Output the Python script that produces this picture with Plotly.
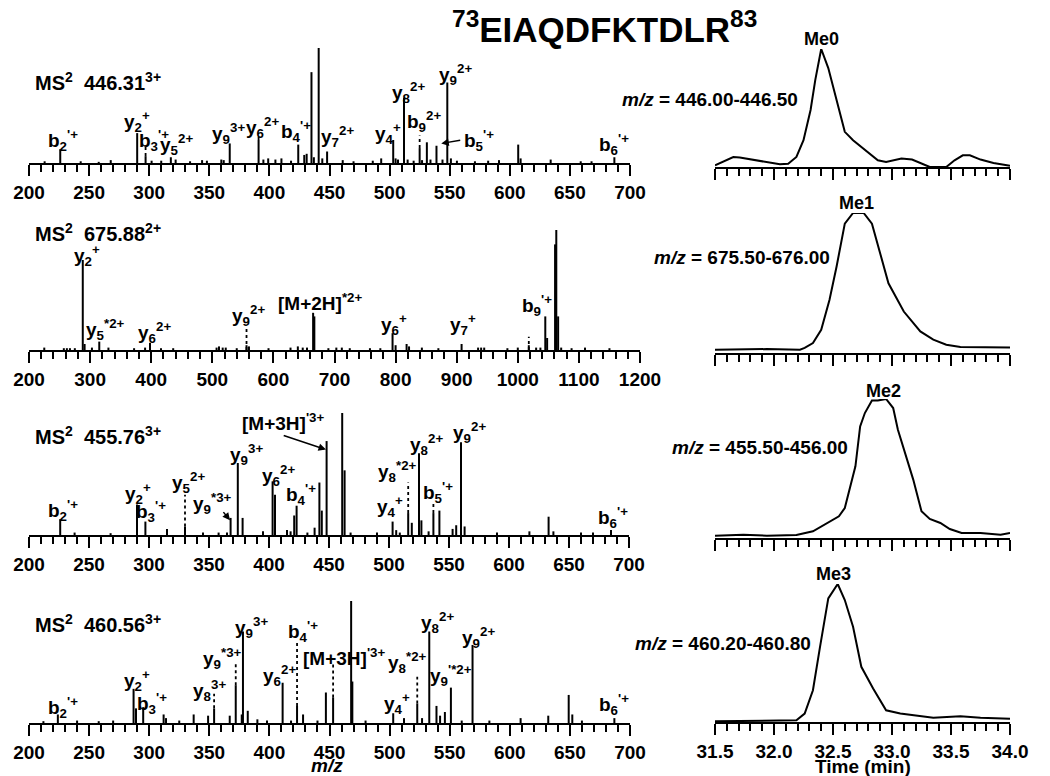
import plotly.graph_objects as go

# ------------------------- DATA -------------------------
title_text = "<sup>73</sup>EIAQDFKTDLR<sup>83</sup>"
ms_titles = ["MS<sup>2</sup>\u00a0\u00a0446.31<sup>3+</sup>",
             "MS<sup>2</sup>\u00a0\u00a0675.88<sup>2+</sup>",
             "MS<sup>2</sup>\u00a0\u00a0455.76<sup>3+</sup>",
             "MS<sup>2</sup>\u00a0\u00a0460.56<sup>3+</sup>"]

# Spectrum 1 (MS2 446.31, 3+)
s1_mz = [213, 226, 243, 258, 268, 290, 297, 302, 310, 318, 322, 334, 344, 348, 360, 362, 367,
         391, 395, 399, 405, 410, 418, 424, 429, 431, 435, 437, 441, 444, 448, 461, 470, 486,
         493, 503, 505, 507, 512, 515, 520, 525, 527, 531, 534, 539, 544, 548, 551, 556, 571,
         582, 591, 607, 609, 634, 659, 668, 687]
s1_int = [1.5, 12, 1.5, 1, 2.5, 26, 6, 2, 2, 5, 3, 1.5, 2.5, 2, 3, 2.5, 17,
          20, 3, 4, 3, 4, 2, 16, 7, 8, 79, 5, 100, 4, 10, 2.5, 1.5, 2,
          4, 20, 4, 3, 57, 3, 2, 13, 2.5, 18, 3, 15, 3, 70, 4, 2, 1.5,
          2, 2.5, 16, 4, 3, 1.5, 1.5, 5]

# Spectrum 2 (MS2 675.88, 2+)
s2_mz = [225, 257, 262, 267, 275, 288, 291, 303, 315, 330, 372, 390, 398, 416, 436, 507, 511,
         517, 522, 540, 556, 560, 592, 628, 640, 648, 655, 665, 667, 690, 703, 712, 725, 758,
         775, 795, 800, 818, 822, 843, 870, 908, 935, 940, 945, 983, 1000, 1018, 1030, 1037,
         1045, 1048, 1061, 1063, 1066, 1071, 1088, 1110, 1150]
s2_int = [2, 1.5, 1.5, 1.5, 1.5, 75, 5, 2, 7, 2, 1.5, 2, 6, 1.5, 1.5, 2, 3,
          2, 2, 1.5, 4, 3, 1.5, 2, 3, 2, 2, 31, 28, 1.5, 2, 2, 1.5, 1.5,
          1.5, 14, 4, 5, 3, 2, 1.5, 5, 2, 2, 2, 1.5, 2, 4, 2, 2,
          28, 10, 88, 100, 28, 2, 1.5, 2, 1.5]

# Spectrum 3 (MS2 455.76, 3+)
s3_mz = [226, 238, 268, 290, 297, 315, 330, 345, 358, 365, 368, 374, 378, 395, 403, 405, 415,
         418, 421, 423, 432, 438, 442, 444, 448, 461, 463, 468, 490, 503, 506, 509, 516, 519,
         525, 527, 533, 537, 542, 553, 556, 560, 563, 590, 617, 633, 637, 660, 670, 685]
s3_int = [13, 2, 1.5, 25, 11, 5, 7, 2, 2, 2, 14, 59, 14, 3, 44, 33, 4,
          3, 16, 24, 2, 6, 43, 20, 77, 100, 53, 2, 2, 11, 4, 2, 18, 10,
          67, 12, 3, 18, 20, 5, 8, 76, 7, 2, 3, 15, 3, 2, 2, 4]

# Spectrum 4 (MS2 460.56, 3+)
s4_mz = [212, 224, 240, 258, 270, 287, 289, 295, 312, 314, 325, 337, 349, 354, 367, 372, 377,
         378, 382, 390, 398, 411, 418, 423, 428, 440, 447, 453, 468, 469, 480, 503, 512, 523,
         527, 533, 539, 542, 546, 551, 560, 569, 583, 609, 632, 649, 652, 660, 687]
s4_int = [1.5, 7, 2, 1.5, 2, 28, 12, 13, 7, 4, 2, 7, 6, 12, 6, 31, 7,
          75, 10, 3, 2, 33, 2, 14, 7, 2, 25, 21, 100, 34, 2, 8, 4, 16,
          4, 75, 14, 6, 9, 29, 2, 64, 2, 4, 6, 23, 7, 2, 4]

# Dotted connector lines: m/z, from, to (relative intensity)
s1_dot = [(297, 6, 14), (391, 20, 25), (525, 13, 24)]
s2_dot = [(556, 0, 18), (1018, 0, 11)]
s3_dot = [(330, 7, 33), (516, 18, 43), (537, 18, 26)]
s4_dot = [(354, 12, 24), (372, 31, 50), (423, 14, 68), (453, 21, 48), (523, 16, 38)]

# Ion labels: text, m/z, relative height
s1_lab = [("b<sub>2</sub><sup>'+</sup>", 228, 20), ("y<sub>2</sub><sup>+</sup>", 290, 36),
          ("b<sub>3</sub><sup>'+</sup>", 304, 20), ("y<sub>5</sub><sup>2+</sup>", 323, 16),
          ("y<sub>9</sub><sup>3+</sup>", 366, 26), ("y<sub>6</sub><sup>2+</sup>", 394, 31),
          ("b<sub>4</sub><sup>'+</sup>", 422, 27), ("y<sub>7</sub><sup>2+</sup>", 457, 23),
          ("[M+3H]<sup>'3+</sup>", 441, 113), ("y<sub>4</sub><sup>+</sup>", 499, 26),
          ("y<sub>8</sub><sup>2+</sup>", 516, 61), ("b<sub>9</sub><sup>2+</sup>", 529, 36),
          ("y<sub>9</sub><sup>2+</sup>", 555, 77), ("b<sub>5</sub><sup>'+</sup>", 574, 20),
          ("b<sub>6</sub><sup>'+</sup>", 687, 16)]
s2_lab = [("y<sub>2</sub><sup>+</sup>", 295, 79), ("y<sub>5</sub><sup>*2+</sup>", 326, 17),
          ("y<sub>6</sub><sup>2+</sup>", 406, 15), ("y<sub>9</sub><sup>2+</sup>", 560, 29),
          ("[M+2H]<sup>*2+</sup>", 676, 40), ("y<sub>6</sub><sup>+</sup>", 797, 21),
          ("y<sub>7</sub><sup>+</sup>", 910, 21), ("b<sub>9</sub><sup>'+</sup>", 1031, 37.5),
          ("b<sub>9</sub><sup>+</sup>", 1066, 108)]
s3_lab = [("b<sub>2</sub><sup>'+</sup>", 228, 20), ("y<sub>2</sub><sup>+</sup>", 291, 34),
          ("b<sub>3</sub><sup>'+</sup>", 302, 19), ("y<sub>5</sub><sup>2+</sup>", 333, 43),
          ("y<sub>9</sub><sup>*3+</sup>", 353, 26), ("y<sub>9</sub><sup>3+</sup>", 381, 66),
          ("y<sub>6</sub><sup>2+</sup>", 408, 49), ("b<sub>4</sub><sup>'+</sup>", 427, 33),
          ("[M+3H]<sup>'3+</sup>", 412, 93), ("y<sub>7</sub><sup>2+</sup>", 467, 105),
          ("y<sub>8</sub><sup>*2+</sup>", 507, 52), ("y<sub>4</sub><sup>+</sup>", 501, 23),
          ("y<sub>8</sub><sup>2+</sup>", 531, 74), ("b<sub>5</sub><sup>'+</sup>", 541, 35),
          ("y<sub>9</sub><sup>2+</sup>", 567, 84), ("b<sub>6</sub><sup>'+</sup>", 687, 14)]
s4_lab = [("b<sub>2</sub><sup>'+</sup>", 228, 13), ("y<sub>2</sub><sup>+</sup>", 290, 35),
          ("b<sub>3</sub><sup>'+</sup>", 302, 16), ("y<sub>8</sub><sup>3+</sup>", 350, 27),
          ("y<sub>9</sub><sup>*3+</sup>", 361, 53), ("y<sub>9</sub><sup>3+</sup>", 385, 78),
          ("y<sub>6</sub><sup>2+</sup>", 408, 39), ("b<sub>4</sub><sup>'+</sup>", 428, 75),
          ("[M+3H]<sup>'3+</sup>", 462, 54), ("y<sub>7</sub><sup>2+</sup>", 473, 111),
          ("y<sub>8</sub><sup>*2+</sup>", 515, 50), ("y<sub>4</sub><sup>+</sup>", 506, 16),
          ("y<sub>8</sub><sup>2+</sup>", 540, 82), ("y<sub>9</sub><sup>'*2+</sup>", 551, 39),
          ("y<sub>9</sub><sup>2+</sup>", 574, 70), ("b<sub>6</sub><sup>'+</sup>", 687, 15)]

# Arrows: (row, tail m/z, tail int, head m/z, head int)
arrows = [(1, 560, 20, 543, 17), (3, 361, 20, 367.5, 12), (3, 411, 82, 447.5, 70)]

# Chromatograms (time in min, relative intensity)
me0_t = [31.50, 31.655, 31.71, 31.88, 32.05, 32.12, 32.19, 32.25, 32.31, 32.35, 32.40, 32.46,
         32.50, 32.55, 32.60, 32.67, 32.79, 32.88, 32.95, 33.08, 33.17, 33.27, 33.32, 33.39,
         33.46, 33.53, 33.60, 33.66, 33.75, 33.86, 34.00]
me0_i = [1.4, 8.5, 8.0, 5.1, 2.3, 2.8, 8.5, 22.7, 48.3, 73.9, 100, 83.8,
         68.2, 48.3, 29.8, 22.7, 12.8, 5.7, 4.3, 7.1, 6.3, 2.3, 0.0, 0.0,
         0.0, 5.7, 9.9, 9.9, 6.3, 3.4, 1.1]
me1_t = [31.50, 31.94, 32.22, 32.26, 32.33, 32.40, 32.47, 32.53, 32.60, 32.67, 32.76, 32.83,
         32.90, 32.97, 33.10, 33.24, 33.35, 33.46, 33.58, 33.86, 34.00]
me1_i = [2.4, 2.8, 2.4, 3.6, 7.1, 16.6, 37.9, 61.6, 92.4, 100, 100, 92.4,
         71.1, 49.8, 29.6, 15.4, 9.5, 5.9, 4.3, 4.3, 4.0]
me2_t = [31.50, 31.74, 31.94, 32.19, 32.33, 32.47, 32.55, 32.60, 32.64, 32.69, 32.73, 32.77,
         32.83, 32.88, 32.95, 33.01, 33.05, 33.10, 33.18, 33.25, 33.32, 33.41, 33.49, 33.59,
         33.75, 33.92, 34.00]
me2_i = [1.7, 2.4, 1.7, 2.2, 4.8, 12.0, 15.6, 21.6, 34.8, 51.6, 80.3, 89.9,
         99.0, 99.0, 100, 93.5, 77.9, 63.5, 42.0, 19.2, 13.7, 10.8, 6.5, 3.6,
         3.6, 2.4, 3.6]
me3_t = [31.50, 31.94, 32.19, 32.26, 32.33, 32.39, 32.46, 32.54, 32.60, 32.67, 32.74, 32.84,
         32.95, 33.07, 33.24, 33.35, 33.58, 33.75, 34.00]
me3_i = [0.5, 0.7, 1.2, 6.1, 23.0, 54.5, 89.6, 100, 88.4, 69.0, 40.0, 24.2,
         8.5, 6.1, 4.1, 3.1, 4.1, 3.1, 2.4]
me_names = ["Me0", "Me1", "Me2", "Me3"]
me_ranges = ["<i>m/z</i> = 446.00-446.50", "<i>m/z</i> = 675.50-676.00",
             "<i>m/z</i> = 455.50-456.00", "<i>m/z</i> = 460.20-460.80"]

# ------------------------- LAYOUT -------------------------
W, H = 1050, 776
FONT = "Liberation Sans, Arial, Helvetica, sans-serif"
def px(x): return x / W
def py(y): return 1 - y / H

left_base = [163, 350, 535, 723]
left_top = [48, 230, 413, 601]
left_x = [(29, 630), (29, 640), (29, 629), (29, 630)]
right_base = [167, 353, 538, 722]
right_top = [49, 213, 399, 584]
right_x = (715, 1010)

spectra = [(s1_mz, s1_int, s1_dot, s1_lab), (s2_mz, s2_int, s2_dot, s2_lab),
           (s3_mz, s3_int, s3_dot, s3_lab), (s4_mz, s4_int, s4_dot, s4_lab)]
chroms = [(me0_t, me0_i), (me1_t, me1_i), (me2_t, me2_i), (me3_t, me3_i)]
me_label_px = [(821, 39), (856, 203), (883, 391), (833, 574)]
range_label_px = [(800, 99), (832, 258), (850, 448), (813, 643)]
ms_title_px = [(33, 82), (33, 232), (33, 435), (33, 623)]

fig = go.Figure()
annotations = []
layout = dict(width=W, height=H, autosize=False, template="none",
              margin=dict(l=0, r=0, t=0, b=0, pad=0),
              paper_bgcolor="white", plot_bgcolor="white", showlegend=False,
              font=dict(family=FONT, color="black", size=18, weight="bold"))

lab_font = dict(family=FONT, size=19, color="black", weight="bold")

for i, (mz, inten, dots, labs) in enumerate(spectra):
    k = i + 1
    xa, ya = f"x{k}", f"y{k}"
    xs, ys = [], []
    for m, v in zip(mz, inten):
        xs += [m, m, None]
        ys += [0, v, None]
    fig.add_trace(go.Scatter(x=xs, y=ys, mode="lines", line=dict(color="black", width=2),
                             xaxis=xa, yaxis=ya, hoverinfo="skip"))
    for (m, a, b) in dots:
        fig.add_trace(go.Scatter(x=[m, m], y=[a, b], mode="lines",
                                 line=dict(color="black", width=1.8, dash="dot"),
                                 xaxis=xa, yaxis=ya, hoverinfo="skip"))
    for (t, m, v) in labs:
        annotations.append(dict(text=t, x=m, y=v, xref=xa, yref=ya, showarrow=False,
                                xanchor="center", yanchor="middle", font=lab_font))
    if i == 1:
        rng, dt, mdt = [200, 1200], 100, 20
    else:
        rng, dt, mdt = [200, 700], 50, 10
    x0, x1 = left_x[i]
    layout[f"xaxis{k}"] = dict(domain=[px(x0), px(x1)], range=rng, anchor=ya, automargin=False,
                               showline=True, linecolor="black", linewidth=2,
                               ticks="outside", ticklen=11, tickwidth=2, tickcolor="black",
                               tick0=200, dtick=dt, showgrid=False, zeroline=False,
                               tickfont=dict(family=FONT, size=19, color="black", weight="bold"),
                               minor=dict(dtick=mdt, ticks="outside", ticklen=7, tickwidth=2,
                                          tickcolor="black", showgrid=False))
    layout[f"yaxis{k}"] = dict(domain=[py(left_base[i]), py(left_top[i])], range=[0, 100],
                               anchor=xa, visible=False, automargin=False)
    tx, ty = ms_title_px[i]
    annotations.append(dict(text=ms_titles[i], x=px(tx), y=py(ty), xref="paper", yref="paper",
                            showarrow=False, xanchor="left", yanchor="middle",
                            font=dict(family=FONT, size=20, color="black", weight="bold")))

for (row, tm, ti, hm, hi) in arrows:
    annotations.append(dict(text="", x=hm, y=hi, ax=tm, ay=ti, xref=f"x{row}", yref=f"y{row}",
                            axref=f"x{row}", ayref=f"y{row}", showarrow=True, arrowhead=2,
                            arrowsize=1, arrowwidth=1.5, arrowcolor="black"))

for i, (t, v) in enumerate(chroms):
    k = i + 5
    xa, ya = f"x{k}", f"y{k}"
    fig.add_trace(go.Scatter(x=t, y=v, mode="lines", line=dict(color="black", width=2),
                             xaxis=xa, yaxis=ya, hoverinfo="skip"))
    layout[f"xaxis{k}"] = dict(domain=[px(right_x[0]), px(right_x[1])], range=[31.5, 34.0],
                               anchor=ya, automargin=False, showline=True, linecolor="black",
                               linewidth=2, ticks="outside", ticklen=11, tickwidth=2,
                               tickcolor="black", tick0=31.5, dtick=0.5, tickformat=".1f",
                               showgrid=False, zeroline=False, showticklabels=(i == 3),
                               tickfont=dict(family=FONT, size=19, color="black", weight="bold"),
                               minor=dict(dtick=0.1, ticks="outside", ticklen=7, tickwidth=2,
                                          tickcolor="black", showgrid=False))
    layout[f"yaxis{k}"] = dict(domain=[py(right_base[i]), py(right_top[i])], range=[0, 100],
                               anchor=xa, visible=False, automargin=False)
    mx, my = me_label_px[i]
    annotations.append(dict(text=me_names[i], x=px(mx), y=py(my), xref="paper", yref="paper",
                            showarrow=False, xanchor="center", yanchor="middle",
                            font=dict(family=FONT, size=18, color="black", weight="bold")))
    rx, ry = range_label_px[i]
    annotations.append(dict(text=me_ranges[i], x=px(rx), y=py(ry), xref="paper", yref="paper",
                            showarrow=False, xanchor="right", yanchor="middle",
                            font=dict(family=FONT, size=19, color="black", weight="bold")))

annotations.append(dict(text=title_text, x=px(604), y=py(27), xref="paper", yref="paper",
                        showarrow=False, xanchor="center", yanchor="middle",
                        font=dict(family=FONT, size=35, color="black", weight="bold")))
annotations.append(dict(text="<i>m/z</i>", x=px(327), y=py(765), xref="paper", yref="paper",
                        showarrow=False, xanchor="center", yanchor="middle",
                        font=dict(family=FONT, size=19, color="black", weight="bold")))
annotations.append(dict(text="Time (min)", x=px(863), y=py(766), xref="paper", yref="paper",
                        showarrow=False, xanchor="center", yanchor="middle",
                        font=dict(family=FONT, size=19, color="black", weight="bold")))

layout["annotations"] = annotations
fig.update_layout(**layout)
fig.write_html("out.html", config={"displayModeBar": False},
               post_script="document.body.style.margin='0';document.body.style.overflow='hidden';")
